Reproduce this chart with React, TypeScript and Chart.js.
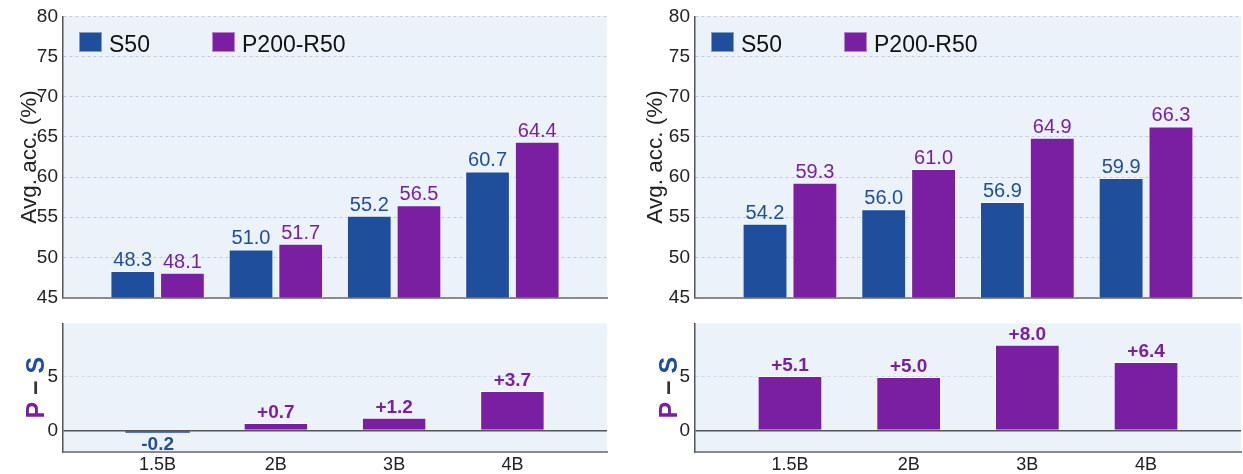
import React, { useEffect, useRef } from "react";
import { Chart, registerables } from "chart.js";

Chart.register(...registerables);

const categories = ["1.5B", "2B", "3B", "4B"];
const seriesNames = ["S50", "P200-R50"];
const leftS50 = [48.3, 51.0, 55.2, 60.7];
const leftP200 = [48.1, 51.7, 56.5, 64.4];
const rightS50 = [54.2, 56.0, 56.9, 59.9];
const rightP200 = [59.3, 61.0, 64.9, 66.3];
const leftDiff = [-0.2, 0.7, 1.2, 3.7];
const rightDiff = [5.1, 5.0, 8.0, 6.4];
const topTicks = [45, 50, 55, 60, 65, 70, 75, 80];
const diffTicks = [0, 5];
const topTitle = "Avg. acc. (%)";

const BLUE = "#1f4e9c";
const PURPLE = "#7b1fa2";
const BG = "#ebf2fa";
const GRID = "#c3cadc";
const GRID2 = "#d2d7e0";
const TEXT = "#222222";
const FONT = "'Liberation Sans', Arial, sans-serif";

type Geo = {
  left: number;
  width: number;
  yWidth: number;
  padRight: number;
  titleX: number;
  psX: number;
};

const GEO: Record<string, Geo> = {
  left: { left: 0, width: 620, yWidth: 63, padRight: 13, titleX: 36, psX: 44 },
  right: { left: 620, width: 623, yWidth: 75, padRight: 2, titleX: 42, psX: 57 },
};

const TOP_H = 314;
const BOT_TOP = 307;
const BOT_H = 167;

const bgPlugin = {
  id: "bgFill",
  beforeDraw(chart: any) {
    const { ctx, chartArea: a } = chart;
    ctx.save();
    ctx.fillStyle = BG;
    ctx.fillRect(a.left, a.top, a.right - a.left, a.bottom - a.top);
    ctx.restore();
  },
};

function makeTopPlugin(geo: Geo) {
  return {
    id: "topDeco",
    afterDraw(chart: any) {
      const { ctx, chartArea: a } = chart;
      ctx.save();
      chart.data.datasets.forEach((ds: any, i: number) => {
        const meta = chart.getDatasetMeta(i);
        ctx.font = `20px ${FONT}`;
        ctx.fillStyle = ds.backgroundColor;
        ctx.textAlign = "center";
        ctx.textBaseline = "alphabetic";
        meta.data.forEach((bar: any, j: number) => {
          const v = ds.data[j].y;
          ctx.fillText(v.toFixed(1), bar.x, bar.y - 5);
        });
      });
      chart.data.datasets.forEach((ds: any, i: number) => {
        const bx = a.left + 16 + i * 133;
        const by = 32;
        ctx.fillStyle = ds.backgroundColor;
        ctx.fillRect(bx, by, 23, 20);
        ctx.strokeStyle = "rgba(255,255,255,0.45)";
        ctx.lineWidth = 1;
        ctx.strokeRect(bx + 0.5, by + 0.5, 22, 19);
        ctx.fillStyle = "#111";
        ctx.font = `23px ${FONT}`;
        ctx.textAlign = "left";
        ctx.textBaseline = "alphabetic";
        ctx.fillText(ds.label, bx + 30, 52);
      });
      ctx.translate(geo.titleX, (a.top + a.bottom) / 2);
      ctx.rotate(-Math.PI / 2);
      ctx.font = `22.5px ${FONT}`;
      ctx.fillStyle = TEXT;
      ctx.textAlign = "center";
      ctx.textBaseline = "alphabetic";
      ctx.fillText(topTitle, 0, 0);
      ctx.restore();
    },
  };
}

function makeBottomPlugin(geo: Geo) {
  return {
    id: "bottomDeco",
    afterDraw(chart: any) {
      const { ctx, chartArea: a } = chart;
      ctx.save();
      const ds = chart.data.datasets[0];
      const meta = chart.getDatasetMeta(0);
      ctx.font = `bold 19px ${FONT}`;
      ctx.textAlign = "center";
      ctx.textBaseline = "alphabetic";
      meta.data.forEach((bar: any, j: number) => {
        const v = ds.data[j].y;
        if (v >= 0) {
          ctx.fillStyle = PURPLE;
          ctx.fillText("+" + v.toFixed(1), bar.x, bar.y - 5);
        } else {
          ctx.fillStyle = BLUE;
          ctx.fillText(v.toFixed(1), bar.x, bar.y + 17);
        }
      });
      ctx.translate(geo.psX, (a.top + a.bottom) / 2);
      ctx.rotate(-Math.PI / 2);
      ctx.font = `bold 25px ${FONT}`;
      ctx.textBaseline = "alphabetic";
      ctx.textAlign = "left";
      const parts: [string, string][] = [
        ["P", PURPLE],
        [" \u2212 ", "#333333"],
        ["S", BLUE],
      ];
      const total = parts.reduce((s, p) => s + ctx.measureText(p[0]).width, 0);
      let x = -total / 2;
      parts.forEach(([t, c]) => {
        ctx.fillStyle = c;
        ctx.fillText(t, x, 0);
        x += ctx.measureText(t).width;
      });
      ctx.restore();
    },
  };
}

function xScale(geo: Geo, showLabels: boolean, height: number) {
  return {
    type: "linear",
    min: -0.8,
    max: 3.8,
    offset: false,
    afterBuildTicks: (s: any) => {
      s.ticks = categories.map((_, i) => ({ value: i }));
    },
    afterFit: (s: any) => {
      s.height = height;
    },
    grid: { display: false, drawTicks: false, offset: false },
    border: { display: true, color: "#8a8a8a", width: 2 },
    ticks: {
      display: showLabels,
      autoSkip: false,
      maxRotation: 0,
      padding: 2,
      color: TEXT,
      font: { family: FONT, size: 18 },
      callback: (v: any) => categories[v] ?? "",
    },
  };
}

function TopChart({ geo, s50, p200 }: { geo: Geo; s50: number[]; p200: number[] }) {
  const ref = useRef<HTMLCanvasElement>(null);
  useEffect(() => {
    const chart = new Chart(ref.current as HTMLCanvasElement, {
      type: "bar",
      data: {
        datasets: [
          {
            label: seriesNames[0],
            data: s50.map((y, i) => ({ x: i, y })),
            backgroundColor: BLUE,
            borderColor: "rgba(255,255,255,0.6)",
            borderWidth: 1,
          },
          {
            label: seriesNames[1],
            data: p200.map((y, i) => ({ x: i, y })),
            backgroundColor: PURPLE,
            borderColor: "rgba(255,255,255,0.6)",
            borderWidth: 1,
          },
        ],
      },
      options: {
        responsive: false,
        animation: false,
        layout: { padding: { top: 0, bottom: 0, left: 0, right: geo.padRight } },
        categoryPercentage: 0.84,
        barPercentage: 0.9,
        plugins: { legend: { display: false }, tooltip: { enabled: false } },
        scales: {
          x: xScale(geo, false, 0),
          y: {
            type: "linear",
            min: 45,
            max: 80,
            afterBuildTicks: (s: any) => {
              s.ticks = topTicks.map((v) => ({ value: v }));
            },
            afterFit: (s: any) => {
              s.width = geo.yWidth;
            },
            grid: { color: GRID, lineWidth: 1, drawTicks: false },
            border: { display: true, color: "#555555", width: 1.5, dash: [3, 3] },
            ticks: { color: TEXT, padding: 5, font: { family: FONT, size: 19 } },
          },
        },
      } as any,
      plugins: [bgPlugin, makeTopPlugin(geo)],
    });
    return () => chart.destroy();
  }, []);
  return (
    <canvas
      ref={ref}
      width={geo.width}
      height={TOP_H}
      style={{ position: "absolute", left: geo.left, top: 0, width: geo.width, height: TOP_H }}
    />
  );
}

function BottomChart({ geo, diff }: { geo: Geo; diff: number[] }) {
  const ref = useRef<HTMLCanvasElement>(null);
  useEffect(() => {
    const chart = new Chart(ref.current as HTMLCanvasElement, {
      type: "bar",
      data: {
        datasets: [
          {
            label: "P - S",
            data: diff.map((y, i) => ({ x: i, y })),
            backgroundColor: (c: any) => (c.raw && c.raw.y < 0 ? BLUE : PURPLE),
            borderColor: "rgba(255,255,255,0.8)",
            borderWidth: (c: any) => (c.raw && c.raw.y < 0 ? 0 : 1),
          },
        ],
      },
      options: {
        responsive: false,
        animation: false,
        layout: { padding: { top: 0, bottom: 0, left: 0, right: geo.padRight } },
        categoryPercentage: 1,
        barPercentage: 0.545,
        plugins: { legend: { display: false }, tooltip: { enabled: false } },
        scales: {
          x: xScale(geo, true, 22),
          y: {
            type: "linear",
            min: -2,
            max: 10,
            afterBuildTicks: (s: any) => {
              s.ticks = diffTicks.map((v) => ({ value: v }));
            },
            afterFit: (s: any) => {
              s.width = geo.yWidth;
            },
            grid: {
              drawTicks: false,
              color: (c: any) => (c.tick && c.tick.value === 0 ? "#555555" : GRID2),
              lineWidth: (c: any) => (c.tick && c.tick.value === 0 ? 1.5 : 1),
            },
            border: {
              display: true,
              color: "#555555",
              width: 1.5,
              dash: (c: any) => (c.tick && c.tick.value === 0 ? [] : [3, 3]),
            },
            ticks: { color: TEXT, padding: 5, font: { family: FONT, size: 19 } },
          },
        },
      } as any,
      plugins: [bgPlugin, makeBottomPlugin(geo)],
    });
    return () => chart.destroy();
  }, []);
  return (
    <canvas
      ref={ref}
      width={geo.width}
      height={BOT_H}
      style={{ position: "absolute", left: geo.left, top: BOT_TOP, width: geo.width, height: BOT_H }}
    />
  );
}

export default function App() {
  return (
    <div
      style={{
        position: "fixed",
        left: 0,
        top: 0,
        width: 1243,
        height: 474,
        background: "#ffffff",
        overflow: "hidden",
      }}
    >
      <TopChart geo={GEO.left} s50={leftS50} p200={leftP200} />
      <BottomChart geo={GEO.left} diff={leftDiff} />
      <TopChart geo={GEO.right} s50={rightS50} p200={rightP200} />
      <BottomChart geo={GEO.right} diff={rightDiff} />
    </div>
  );
}
